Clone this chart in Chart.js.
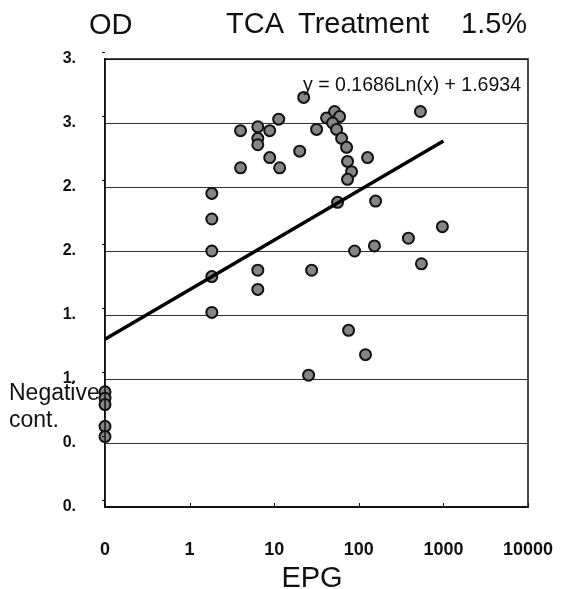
<!DOCTYPE html>
<html>
<head>
<meta charset="utf-8">
<script src="https://cdn.jsdelivr.net/npm/chart.js@4.4.1/dist/chart.umd.min.js"></script>
<style>
  html, body { margin: 0; padding: 0; background: #fff; }
  #chart { display: block; }
</style>
</head>
<body>
<canvas id="chart" width="565" height="589"></canvas>
<script>
// x axis (log), "0" sits one decade below 1
const xTickValues = [0.1, 1, 10, 100, 1000, 10000];
const xTickLabels = ['0', '1', '10', '100', '1000', '10000'];
// y axis labels are cut off in the original (0.5 -> "0.")
const yTickLabels = ['0.', '0.', '1.', '1.', '2.', '2.', '3.', '3.'];

// treated samples
const epg = [
  1.83, 1.83, 1.83, 1.83, 1.83, 4.0, 4.0,
  6.4, 6.4, 6.4, 6.4, 6.4, 8.85, 8.85,
  11.3, 11.6, 20, 22.3, 25.5, 27.7, 31.7,
  41.6, 51.7, 59.3, 49, 54.6, 62.6, 71.7,
  73.6, 82.1, 73.6, 56.1, 75.7, 89.1, 120,
  127, 158, 153, 386, 550, 535, 973
];
const od = [
  2.45, 2.25, 2.00, 1.80, 1.52, 2.94, 2.65,
  2.97, 2.88, 2.83, 1.85, 1.70, 2.94, 2.73,
  3.03, 2.65, 2.78, 3.20, 1.03, 1.85, 2.95,
  3.04, 3.09, 3.05, 3.00, 2.95, 2.88, 2.81,
  2.70, 2.62, 2.56, 2.38, 1.38, 2.00, 1.19,
  2.73, 2.39, 2.04, 2.10, 1.90, 3.09, 2.19
];

// negative controls, plotted on the "0" position
const negEpg = [0.1, 0.1, 0.1, 0.1, 0.1];
const negOd = [0.90, 0.85, 0.80, 0.63, 0.55];

// fitted log trend line, end points
const trendEpg = [0.1, 1000];
const trendOd = [1.31, 2.86];

const FONT = "'Liberation Sans', Arial, sans-serif";

const toPoints = (xs, ys) => xs.map((x, i) => ({ x: x, y: ys[i] }));

// frame, small axis ticks and all the free texts
const annotations = {
  id: 'annotations',
  afterDraw(chart) {
    const ctx = chart.ctx;
    const area = chart.chartArea;
    const xScale = chart.scales.x;
    const yScale = chart.scales.y;
    ctx.save();
    ctx.strokeStyle = '#111';
    ctx.lineWidth = 1.5;
    ctx.strokeRect(area.left, area.top, area.right - area.left, area.bottom - area.top);

    // tiny inward tick marks on the bottom axis
    ctx.lineWidth = 1;
    xTickValues.forEach(v => {
      const px = Math.round(xScale.getPixelForValue(v)) + 0.5;
      ctx.beginPath();
      ctx.moveTo(px, area.bottom);
      ctx.lineTo(px, area.bottom - 4);
      ctx.stroke();
    });
    // little outside ticks on the left axis, a bit above each gridline
    yScale.ticks.forEach(t => {
      const py = Math.round(yScale.getPixelForValue(t.value)) - 6.5;
      ctx.beginPath();
      ctx.moveTo(area.left - 3, py);
      ctx.lineTo(area.left, py);
      ctx.stroke();
    });

    ctx.fillStyle = '#111';
    ctx.textBaseline = 'alphabetic';
    ctx.textAlign = 'left';
    ctx.font = '29px ' + FONT;
    ctx.fillText('OD', 89, 34);
    ctx.fillText('TCA', 226, 33);
    ctx.fillText('Treatment', 298, 33);
    ctx.fillText('1.5%', 461, 33);

    ctx.textAlign = 'right';
    ctx.font = '19.5px ' + FONT;
    ctx.fillText('y = 0.1686Ln(x) + 1.6934', 521, 91);

    ctx.textAlign = 'left';
    ctx.font = '23px ' + FONT;
    ctx.fillText('Negative', 9, 400);
    ctx.fillText('cont.', 9, 427);

    ctx.textAlign = 'center';
    ctx.font = '29px ' + FONT;
    ctx.fillText('EPG', 312, 587);
    ctx.restore();
  }
};

new Chart(document.getElementById('chart'), {
  type: 'scatter',
  data: {
    datasets: [
      {
        label: 'trend',
        data: toPoints(trendEpg, trendOd),
        showLine: true,
        borderColor: '#000',
        borderWidth: 3.5,
        pointRadius: 0,
        clip: false
      },
      {
        label: 'samples',
        data: toPoints(epg, od),
        backgroundColor: '#858585',
        borderColor: '#111',
        borderWidth: 2,
        pointRadius: 5.5,
        clip: false
      },
      {
        label: 'negative',
        data: toPoints(negEpg, negOd),
        backgroundColor: '#858585',
        borderColor: '#111',
        borderWidth: 2,
        pointRadius: 5.5,
        clip: false
      }
    ]
  },
  options: {
    responsive: false,
    animation: false,
    devicePixelRatio: 1,
    layout: { padding: { top: 59, right: 37, left: 0, bottom: 0 } },
    plugins: {
      legend: { display: false },
      tooltip: { enabled: false }
    },
    scales: {
      x: {
        type: 'logarithmic',
        min: 0.1,
        max: 10000,
        afterFit: (scale) => {
          scale.height = 82;
          scale.paddingLeft = 0;
          scale.paddingRight = 0;
        },
        afterBuildTicks: (scale) => {
          scale.ticks = xTickValues.map(v => ({ value: v }));
        },
        ticks: {
          autoSkip: false,
          maxRotation: 0,
          padding: 24,
          color: '#111',
          font: { family: FONT, size: 18, weight: 'bold' },
          callback: (value, index) => xTickLabels[index]
        },
        grid: { display: false },
        border: { display: true, color: '#111', width: 1.5 }
      },
      y: {
        min: 0,
        max: 3.5,
        afterFit: (scale) => {
          scale.width = 105;
          scale.paddingTop = 0;
          scale.paddingBottom = 0;
        },
        ticks: {
          stepSize: 0.5,
          padding: 29,
          color: '#111',
          font: { family: FONT, size: 16, weight: 'bold' },
          callback: (value, index) => yTickLabels[index]
        },
        grid: { color: '#333', lineWidth: 1, drawTicks: false },
        border: { display: true, color: '#111', width: 1.5 }
      }
    }
  },
  plugins: [annotations]
});
</script>
</body>
</html>
